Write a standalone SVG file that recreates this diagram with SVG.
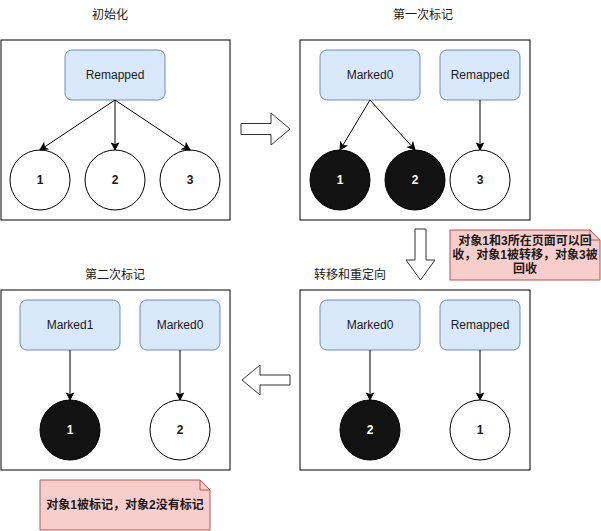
<svg xmlns="http://www.w3.org/2000/svg" width="601" height="531" viewBox="0 0 601 531">
<defs>
<marker id="ah" markerWidth="10" markerHeight="10" refX="8" refY="5" orient="auto" markerUnits="userSpaceOnUse">
<path d="M1,1.5 L8,5 L1,8.5 L2.8,5 Z" fill="#000" stroke="#000" stroke-width="1"/>
</marker>
<style>
text{font-family:"Liberation Sans","Noto Sans CJK SC",Arial,sans-serif;font-size:12px;fill:#1a1a1a;text-anchor:middle;dominant-baseline:central}
.panel{fill:#fff;stroke:#000;stroke-width:1}
.box{fill:#dae8fc;stroke:#6c8ebf;stroke-width:1}
.wc{fill:#fff;stroke:#000;stroke-width:1}
.bc{fill:#121212;stroke:#000;stroke-width:1}
.num{font-weight:bold}
.wt{fill:#fff;font-weight:bold}
.note{fill:#f8cecc;stroke:#b85450;stroke-width:1}
.nt{font-weight:bold}
.big{fill:#fff;stroke:#333;stroke-width:1}
.edge{stroke:#000;stroke-width:1;fill:none;marker-end:url(#ah)}
</style>
</defs>

<g id="titles">
<text x="110" y="15">初始化</text>
<text x="423" y="15">第一次标记</text>
<text x="350" y="275">转移和重定向</text>
<text x="115" y="275">第二次标记</text>
</g>

<g id="panel1">
<rect class="panel" x="1" y="40" width="229" height="180"/>
<g id="p1-remapped"><rect class="box" x="65" y="50" width="100" height="50" rx="7"/><text x="115" y="75">Remapped</text></g>
<g id="p1-c1"><circle class="wc" cx="40" cy="180" r="30"/><text class="num" x="40" y="180">1</text></g>
<g id="p1-c2"><circle class="wc" cx="115" cy="180" r="30"/><text class="num" x="115" y="180">2</text></g>
<g id="p1-c3"><circle class="wc" cx="190" cy="180" r="30"/><text class="num" x="190" y="180">3</text></g>
</g>

<g id="panel2">
<rect class="panel" x="300" y="40" width="230" height="180"/>
<g id="p2-marked0"><rect class="box" x="320" y="50" width="100" height="50" rx="7"/><text x="370" y="75">Marked0</text></g>
<g id="p2-remapped"><rect class="box" x="440" y="50" width="80" height="50" rx="7"/><text x="480" y="75">Remapped</text></g>
<g id="p2-c1"><circle class="bc" cx="340" cy="180" r="30"/><text class="wt" x="340" y="180">1</text></g>
<g id="p2-c2"><circle class="bc" cx="415" cy="180" r="30"/><text class="wt" x="415" y="180">2</text></g>
<g id="p2-c3"><circle class="wc" cx="480" cy="180" r="30"/><text class="num" x="480" y="180">3</text></g>
</g>

<g id="panel3">
<rect class="panel" x="300" y="290" width="230" height="180"/>
<g id="p3-marked0"><rect class="box" x="320" y="300" width="100" height="50" rx="7"/><text x="370" y="325">Marked0</text></g>
<g id="p3-remapped"><rect class="box" x="440" y="300" width="80" height="50" rx="7"/><text x="480" y="325">Remapped</text></g>
<g id="p3-c2"><circle class="bc" cx="370" cy="430" r="30"/><text class="wt" x="370" y="430">2</text></g>
<g id="p3-c1"><circle class="wc" cx="480" cy="430" r="30"/><text class="num" x="480" y="430">1</text></g>
</g>

<g id="panel4">
<rect class="panel" x="1" y="290" width="229" height="180"/>
<g id="p4-marked1"><rect class="box" x="20" y="300" width="100" height="50" rx="7"/><text x="70" y="325">Marked1</text></g>
<g id="p4-marked0"><rect class="box" x="140" y="300" width="80" height="50" rx="7"/><text x="180" y="325">Marked0</text></g>
<g id="p4-c1"><circle class="bc" cx="70" cy="430" r="30"/><text class="wt" x="70" y="430">1</text></g>
<g id="p4-c2"><circle class="wc" cx="180" cy="430" r="30"/><text class="num" x="180" y="430">2</text></g>
</g>

<g id="flow-arrows">
<path id="arrow-right" class="big" d="M241,123.5 L271,123.5 L271,113 L290,129 L271,145 L271,134.5 L241,134.5 Z"/>
<path id="arrow-down" class="big" d="M415,229 L426,229 L426,260 L435,260 L420.5,280 L406,260 L415,260 Z"/>
<path id="arrow-left" class="big" d="M290,375 L260,375 L260,365 L242,380 L260,395 L260,385 L290,385 Z"/>
</g>

<g id="note1">
<path class="note" d="M450,230 L590,230 L600,240 L600,280 L450,280 Z"/>
<path d="M590,230 L590,240 L600,240" fill="none" stroke="#b85450"/>
<text class="nt" x="525" y="241">对象1和3所在页面可以回</text>
<text class="nt" x="525" y="255">收，对象1被转移，对象3被</text>
<text class="nt" x="525" y="269">回收</text>
</g>

<g id="note2">
<path class="note" d="M40,480 L200,480 L210,490 L210,530 L40,530 Z"/>
<path d="M200,480 L200,490 L210,490" fill="none" stroke="#b85450"/>
<text class="nt" x="125" y="505">对象1被标记，对象2没有标记</text>
</g>

<g id="connectors">
<line class="edge" x1="115" y1="100" x2="40" y2="150"/>
<line class="edge" x1="115" y1="100" x2="115" y2="150"/>
<line class="edge" x1="115" y1="100" x2="190" y2="150"/>
<line class="edge" x1="370" y1="100" x2="340" y2="150"/>
<line class="edge" x1="370" y1="100" x2="415" y2="150"/>
<line class="edge" x1="480" y1="100" x2="480" y2="150"/>
<line class="edge" x1="370" y1="350" x2="370" y2="400"/>
<line class="edge" x1="480" y1="350" x2="480" y2="400"/>
<line class="edge" x1="70" y1="350" x2="70" y2="400"/>
<line class="edge" x1="180" y1="350" x2="180" y2="400"/>
</g>
</svg>
